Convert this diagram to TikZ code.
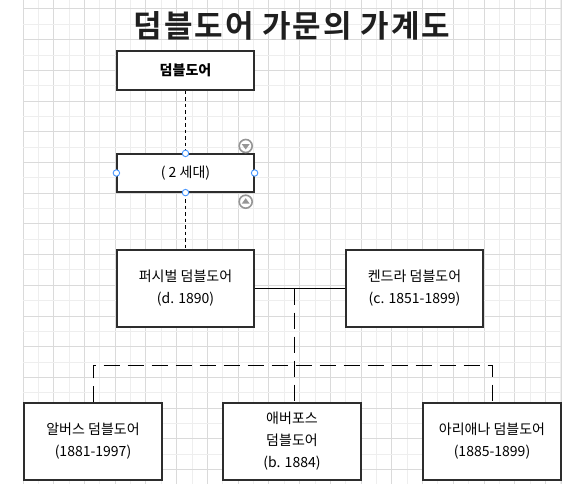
\documentclass[tikz,border=0pt]{standalone}
\usepackage{fontspec}
\setmainfont{Noto Sans CJK KR}
\newfontfamily\titlefont[LetterSpace=6]{Noto Sans CJK KR Bold}
\definecolor{gridminor}{RGB}{238,238,238}
\definecolor{gridmajor}{RGB}{218,218,218}
\definecolor{boxline}{RGB}{45,45,45}
\definecolor{handle}{RGB}{70,150,255}
\definecolor{icongray}{RGB}{150,150,150}
\begin{document}
\begin{tikzpicture}[x=1pt,y=-1pt,
  box/.style={draw=boxline, line width=1.2pt, fill=white, align=center, inner sep=0pt,
    font=\fontsize{14}{22}\selectfont},
  conn/.style={line width=0.9pt, black},
  smalldash/.style={conn, dash pattern=on 3.5pt off 3pt},
  longdash/.style={conn, dash pattern=on 16pt off 8pt},
  hdl/.style={circle, draw=handle, fill=white, line width=0.9pt, minimum size=6.5pt, inner sep=0pt},
  icon/.style={circle, draw=icongray, line width=1.6pt, minimum size=13pt, inner sep=0pt}
]
\useasboundingbox (0,0) rectangle (583,484);
\fill[white] (0,0) rectangle (583,484);
% grid
\foreach \k in {0,...,35} {
  \pgfmathsetmacro\gx{23+15.37*\k}
  \pgfmathtruncatemacro\ev{mod(\k,2)}
  \ifnum\ev=0
    \draw[gridmajor, line width=1pt] (\gx,0) -- (\gx,484);
  \else
    \draw[gridminor, line width=1pt] (\gx,0) -- (\gx,484);
  \fi
}
\foreach \k in {0,...,31} {
  \pgfmathsetmacro\gy{9+15.35*\k}
  \pgfmathtruncatemacro\ev{mod(\k,2)}
  \ifnum\ev=0
    \draw[gridmajor, line width=1pt] (23,\gy) -- (561,\gy);
  \else
    \draw[gridminor, line width=1pt] (23,\gy) -- (561,\gy);
  \fi
}
\draw[gridmajor, line width=1pt] (561,0) -- (561,484);

% title
\node[font=\fontsize{31}{31}\titlefont, text=black!88] (title) at (292,26) {덤블도어 가문의 가계도};

% boxes
\node[box, minimum width=137pt, minimum height=39pt, font=\fontsize{14}{22}\selectfont\bfseries] (dumb) at (185.5,70.5) {덤블도어};
\node[box, minimum width=137pt, minimum height=38pt] (gen) at (185.5,173) {( 2 세대)};
\node[box, minimum width=137pt, minimum height=77pt] (perc) at (185.5,288.5) {퍼시벌 덤블도어\\(d. 1890)};
\node[box, minimum width=137pt, minimum height=77pt] (kend) at (414.5,288.5) {켄드라 덤블도어\\(c. 1851-1899)};
\node[box, minimum width=138pt, minimum height=77pt] (albus) at (93,441.5) {알버스 덤블도어\\(1881-1997)};
\node[box, minimum width=138pt, minimum height=77pt] (aber) at (292,441.5) {애버포스\\덤블도어\\(b. 1884)};
\node[box, minimum width=138pt, minimum height=77pt] (arian) at (492,441.5) {아리애나 덤블도어\\(1885-1899)};

% connectors
\draw[smalldash] (dumb.south) -- (gen.north);
\draw[smalldash] (gen.south) -- (perc.north);
\draw[conn] (perc.east) -- (kend.west);
\coordinate (junc) at (294,288.5);
\coordinate (bar) at (0,365);
\draw[longdash] (junc) -- (junc |- aber.north);
\draw[longdash] (albus.north) -- (albus.north |- bar) -- (arian.north |- bar) -- (arian.north);

% selection handles
\node[hdl] (h1) at (gen.north) {};
\node[hdl] (h2) at (gen.south) {};
\node[hdl] (h3) at (gen.west) {};
\node[hdl] (h4) at (gen.east) {};
\node[icon] (icdown) at (245.7,146) {};
\node[icon] (icup) at (245.7,201.7) {};
\fill[icongray] (241.7,144) -- (249.7,144) -- (245.7,149.5) -- cycle;
\fill[icongray] (241.7,203.7) -- (249.7,203.7) -- (245.7,198.2) -- cycle;
\end{tikzpicture}
\end{document}
